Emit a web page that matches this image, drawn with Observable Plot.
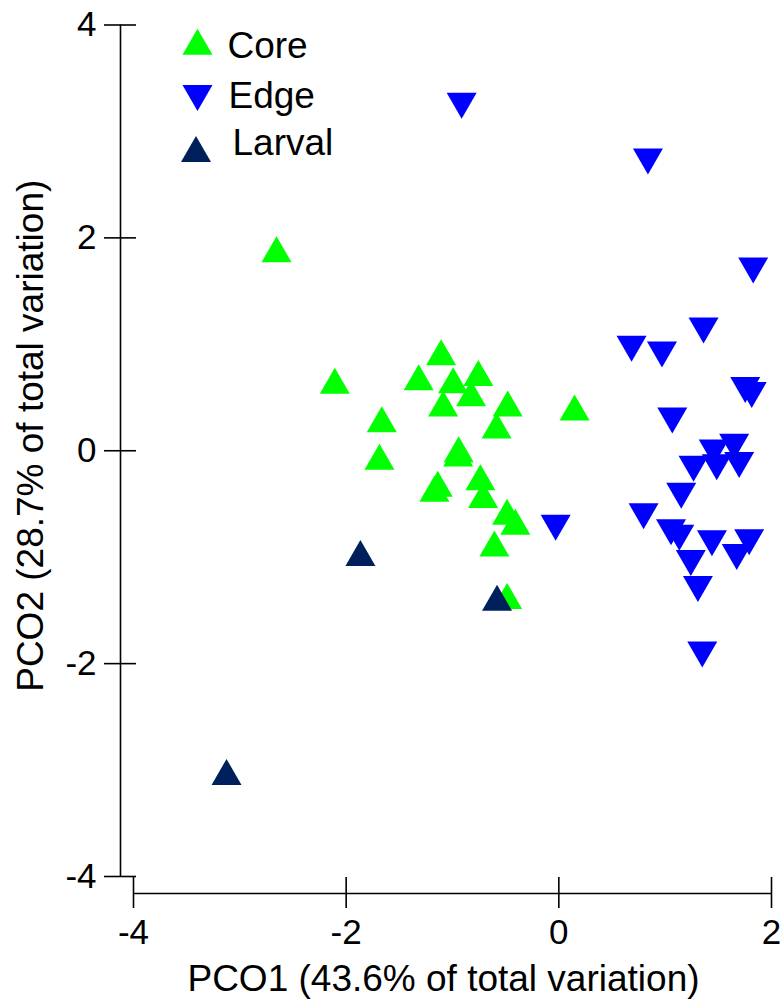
<!DOCTYPE html>
<html>
<head>
<meta charset="utf-8">
<script src="https://cdn.jsdelivr.net/npm/d3@7"></script>
<script src="https://cdn.jsdelivr.net/npm/@observablehq/plot@0.6"></script>
<style>
  html, body { margin: 0; padding: 0; background: #fff; }
  #chart svg { display: block; }
</style>
</head>
<body>
<div id="chart"></div>
<script>
// ---------- data ----------
const groups = ["Core", "Edge", "Larval"];
const groupColors = ["#00ff00", "#0000ff", "#00205b"];

const coreX = [-1.107, -1.318, -0.994, -0.757, -0.825, -1.088, -0.481, -0.585, -0.942, -0.947,
               -1.139, -1.170, -0.738, -0.712, -0.487, -0.409, -0.606, -0.487, -2.107, -1.665,
               -1.687, 0.148, -2.655];
const coreY = [0.926, 0.691, 0.663, 0.730, 0.540, 0.444, 0.444, 0.237, 0.014, -0.026,
               -0.311, -0.358, -0.249, -0.416, -0.574, -0.667, -0.872, -1.364, 0.657, 0.296,
               -0.056, 0.406, 1.893];

const edgeX = [-0.914, 0.838, 1.828, 1.361, 0.684, 0.970, 1.753, 1.814, 1.067, 1.649,
               1.457, 1.696, 1.485, 1.267, 1.151, 0.797, 1.055, 1.133, 1.440, 1.790,
               1.673, 1.241, 1.308, 1.349, -0.030];
const edgeY = [3.242, 2.718, 1.694, 1.130, 0.958, 0.904, 0.570, 0.523, 0.284, 0.037,
               -0.017, -0.133, -0.155, -0.170, -0.423, -0.615, -0.766, -0.818, -0.870, -0.860,
               -0.999, -1.054, -1.298, -1.915, -0.724];

const larvalX = [-1.866, -0.581, -3.125];
const larvalY = [-0.960, -1.382, -3.018];

const xTicks = [-4, -2, 0, 2];
const yTicks = [-4, -2, 0, 2, 4];
const xDomain = [-4, 2];
const yDomain = [-4, 4];
const xTitle = "PCO1 (43.6% of total variation)";
const yTitle = "PCO2 (28.7% of total variation)";

// ---------- build table ----------
const seriesX = [coreX, edgeX, larvalX];
const seriesY = [coreY, edgeY, larvalY];
const points = [];
groups.forEach((g, gi) => {
  seriesX[gi].forEach((x, i) => points.push({group: g, x, y: seriesY[gi][i]}));
});

// bbox-centred triangles
const triUp = {
  draw(ctx, size) {
    const s = Math.sqrt(size * 4 / Math.sqrt(3));
    const h = s * Math.sqrt(3) / 2;
    ctx.moveTo(0, -h / 2);
    ctx.lineTo(s / 2, h / 2);
    ctx.lineTo(-s / 2, h / 2);
    ctx.closePath();
  }
};
const triDown = {
  draw(ctx, size) {
    const s = Math.sqrt(size * 4 / Math.sqrt(3));
    const h = s * Math.sqrt(3) / 2;
    ctx.moveTo(0, h / 2);
    ctx.lineTo(s / 2, -h / 2);
    ctx.lineTo(-s / 2, -h / 2);
    ctx.closePath();
  }
};
const groupSymbols = [triUp, triDown, triUp];
const R = 11.14;
const FONT = "\"Liberation Sans\", Arial, Helvetica, sans-serif";

// legend layout (pixel offsets from the frame's top-left corner)
const legendLayout = [
  {sx: 64, sy: 16.7, tx: 94, ty: 21},
  {sx: 64, sy: 73, tx: 95, ty: 71},
  {sx: 62.5, sy: 124, tx: 99, ty: 118}
];

const marks = [];
// axis lines
marks.push(Plot.ruleX([xDomain[0]], {dx: -13, stroke: "#000", strokeWidth: 1.6}));
marks.push(Plot.ruleY([yDomain[0]], {dy: 17, stroke: "#000", strokeWidth: 1.6}));
// y ticks (crossing) + labels
marks.push(Plot.axisY({anchor: "left", ticks: yTicks, tickSize: 32, dx: 3, tickPadding: 0,
  tickFormat: () => "", label: null, stroke: "#000", strokeWidth: 1.6}));
marks.push(Plot.axisY({anchor: "left", ticks: yTicks, tickSize: 0, tickPadding: 0, dx: -37,
  tickFormat: d => String(d), label: null, fontSize: 35, fill: "#000", fontFamily: FONT}));
// x ticks (crossing) + labels
marks.push(Plot.axisX({anchor: "bottom", ticks: xTicks, tickSize: 31, dy: 1, tickPadding: 0,
  tickFormat: () => "", label: null, stroke: "#000", strokeWidth: 1.6}));
marks.push(Plot.axisX({anchor: "bottom", ticks: xTicks, tickSize: 0, tickPadding: 0, dy: 43,
  tickFormat: d => String(d), label: null, fontSize: 35, fill: "#000", fontFamily: FONT}));
// axis titles
marks.push(Plot.text([xTitle], {text: d => d, frameAnchor: "bottom", dx: -9, dy: 103,
  textAnchor: "middle", lineAnchor: "middle",
  fontSize: 37, fill: "#000", fontFamily: FONT}));
marks.push(Plot.text([yTitle], {text: d => d, frameAnchor: "left", dx: -102, dy: -15,
  textAnchor: "middle", lineAnchor: "middle",
  rotate: -90, fontSize: 37, fill: "#000", fontFamily: FONT}));
// points
groups.forEach((g, gi) => {
  marks.push(Plot.dot(points.filter(p => p.group === g), {
    x: "x", y: "y", r: R, symbol: groupSymbols[gi], fill: groupColors[gi], stroke: "none"
  }));
});
// legend
groups.forEach((g, gi) => {
  const L = legendLayout[gi];
  marks.push(Plot.dot([g], {frameAnchor: "top-left", dx: L.sx, dy: L.sy, r: R,
    symbol: groupSymbols[gi], fill: groupColors[gi], stroke: "none"}));
  marks.push(Plot.text([g], {text: d => d, frameAnchor: "top-left", dx: L.tx, dy: L.ty,
    textAnchor: "start", lineAnchor: "middle", fontSize: 37, fill: "#000", fontFamily: FONT}));
});

const chart = Plot.plot({
  width: 783,
  height: 1005,
  marginLeft: 133,
  marginRight: 12,
  marginTop: 24.5,
  marginBottom: 129,
  x: {domain: xDomain},
  y: {domain: yDomain},
  style: {background: "#fff", color: "#000", fontFamily: FONT, overflow: "visible"},
  marks
});
document.getElementById("chart").appendChild(chart);
</script>
</body>
</html>
